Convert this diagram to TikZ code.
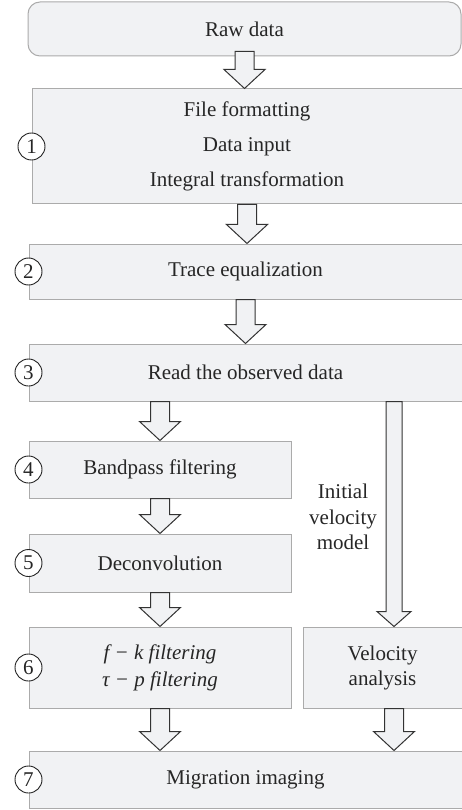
\documentclass[tikz,border=0pt]{standalone}
\usepackage{fontspec}
\setmainfont{Liberation Serif}
\usetikzlibrary{calc}
\definecolor{boxfill}{HTML}{F1F2F4}
\definecolor{boxline}{HTML}{ABABAB}
\definecolor{arrline}{HTML}{333333}
\def\shaftw{9.5pt}
\def\headw{20.5pt}
\def\headl{19pt}
\newcommand{\fatarrow}[2]{%
  \draw[fatarr] let \p1=#1, \p2=#2 in
    (\x1-\shaftw,\y1) -- (\x1+\shaftw,\y1) -- (\x1+\shaftw,\y2+\headl)
    -- (\x1+\headw,\y2+\headl) -- (\x1,\y2) -- (\x1-\headw,\y2+\headl)
    -- (\x1-\shaftw,\y2+\headl) -- cycle;}
\tikzset{every node/.style={font=\fontsize{21}{25}\selectfont, text=black!85},
  stepbox/.style={draw=boxline, fill=boxfill, line width=1pt, inner sep=0pt, align=center},
  num/.style={circle, draw=black!85, fill=white, line width=0.9pt, minimum size=27pt, inner sep=0pt},
  fatarr/.style={draw=arrline, fill=boxfill, line width=1pt, line join=miter}}

\begin{document}
\begin{tikzpicture}[x=1pt,y=-1pt]
   \useasboundingbox (0,0) rectangle (462,810);
   \coordinate (col2) at (394,0);
   \node[stepbox, rounded corners=12pt, minimum width=433pt, minimum height=54pt] (raw) at (244.5,29) {Raw data};
   \node[stepbox, minimum width=430pt, minimum height=115pt, font=\fontsize{21}{35}\selectfont] (box1) at (247,146.5) {File formatting\\Data input\\Integral transformation};
   \node[stepbox, minimum width=433pt, minimum height=55pt] (box2) at (245.5,271.5) {Trace equalization};
   \node[stepbox, minimum width=433pt, minimum height=57pt] (box3) at (245.5,372.5) {Read the observed data};
   \node[stepbox, minimum width=262pt, minimum height=57pt] (box4) at (160,469.5) {Bandpass filtering};
   \node[stepbox, minimum width=262pt, minimum height=58pt] (box5) at (160,563) {Deconvolution};
   \node[stepbox, minimum width=262pt, minimum height=81pt, font=\fontsize{21}{27}\selectfont] (box6) at (160,667.5) {\itshape f − k filtering\\\itshape τ − p filtering};
   \node[stepbox, minimum width=159pt, minimum height=81pt, font=\fontsize{21}{25}\selectfont] (vel) at (382.5,667.5) {Velocity\\analysis};
   \node[stepbox, minimum width=433pt, minimum height=57pt] (box7) at (245.5,779.5) {Migration imaging};
   \node[align=center, font=\fontsize{21}{25.5}\selectfont] (init) at (343,517) {Initial\\velocity\\model};
   \fatarrow{($(raw.south)+(0,-5)$)}{(box1.north)}
   \fatarrow{(box1.south)}{(box2.north)}
   \fatarrow{(box2.south)}{(box3.north)}
   \fatarrow{(box4.north |- box3.south)}{(box4.north)}
   \fatarrow{(box4.south)}{(box5.north)}
   \fatarrow{(box5.south)}{(box6.north)}
   \fatarrow{(box6.south)}{(box6.south |- box7.north)}
   \fatarrow{(col2 |- vel.south)}{(col2 |- box7.north)}
   {\def\shaftw{8pt}\def\headw{17pt}\def\headl{15pt}
   \fatarrow{(col2 |- box3.south)}{(col2 |- vel.north)}}
   \node[num] (n1) at (box1.west) {1};
   \node[num] (n2) at (box2.west) {2};
   \node[num] (n3) at (box3.west) {3};
   \node[num] (n4) at (box4.west) {4};
   \node[num] (n5) at (box5.west) {5};
   \node[num] (n6) at (box6.west) {6};
   \node[num] (n7) at (box7.west) {7};
  \end{tikzpicture}
\end{document}
